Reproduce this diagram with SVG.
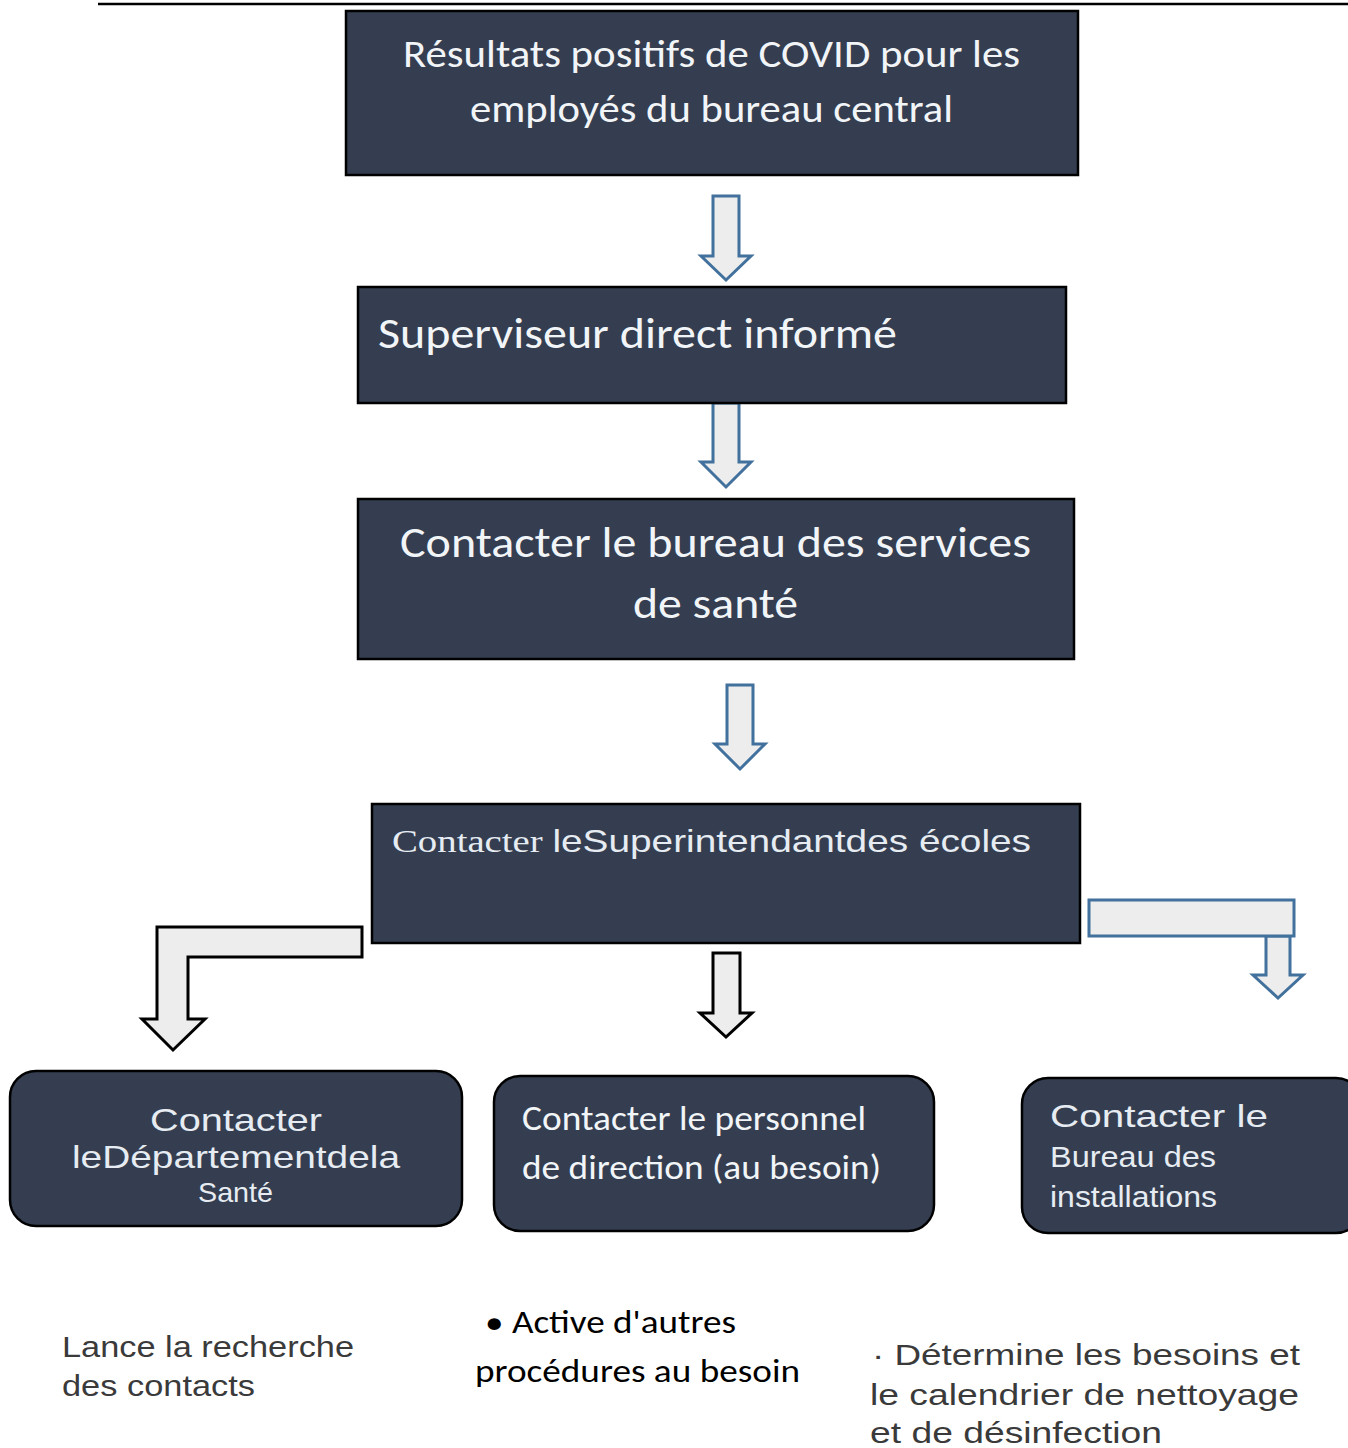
<svg xmlns="http://www.w3.org/2000/svg" width="1348" height="1448" viewBox="0 0 1348 1448">
<style>
.box{fill:#343e50;stroke:#000;stroke-width:2.5}
.cal{font-family:Carlito,"Open Sans","Noto Sans",sans-serif;fill:#f2f5f8}
.ari{font-family:"Liberation Sans",Arial,sans-serif;fill:#e6ecf2}
.ser{font-family:"Liberation Serif","Times New Roman",serif}
.blue{fill:#ededed;stroke:#41719c;stroke-width:3;stroke-linejoin:miter}
.blk{fill:#ededed;stroke:#000;stroke-width:3;stroke-linejoin:miter}
.note{font-family:"Liberation Sans",Arial,sans-serif;fill:#3a3a3a;font-size:30px}
.note2{font-family:Carlito,"Open Sans","Noto Sans",sans-serif;fill:#000;font-size:32px}
</style>
<rect width="1348" height="1448" fill="#fff"/>
<line x1="98" y1="4" x2="1348" y2="4" stroke="#000" stroke-width="2.5"/>

<g id="connectors">
<path class="blue" d="M713,196 L739,196 L739,256 L751,256 L726,280 L701,256 L713,256 Z"/>
<path class="blue" d="M713,403 L739,403 L739,462 L751,462 L726,487 L701,462 L713,462 Z"/>
<path class="blue" d="M727,685 L753,685 L753,744 L765,744 L740,769 L715,744 L727,744 Z"/>
<path class="blk" d="M362,927 L157,927 L157,1019 L142,1019 L173,1050 L205,1019 L188,1019 L188,957 L362,957 Z"/>
<path class="blk" d="M713,953 L740,953 L740,1013 L752,1013 L726,1037 L700,1013 L713,1013 Z"/>
<path class="blue" d="M1266,936 L1290,936 L1290,975 L1303,975 L1278,998 L1253,975 L1266,975 Z"/>
<rect class="blue" x="1089" y="900" width="205" height="36"/>
</g>

<g id="n1">
<rect class="box" x="346" y="11" width="732" height="164"/>
<text class="cal" x="403" y="67" font-size="38" textLength="617" lengthAdjust="spacingAndGlyphs">Résultats positifs de COVID pour les</text>
<text class="cal" x="470" y="122" font-size="38" textLength="483" lengthAdjust="spacingAndGlyphs">employés du bureau central</text>
</g>

<g id="n2">
<rect class="box" x="358" y="287" width="708" height="116"/>
<text class="cal" x="378" y="348" font-size="44" textLength="519" lengthAdjust="spacingAndGlyphs">Superviseur direct informé</text>
</g>

<g id="n3">
<rect class="box" x="358" y="499" width="716" height="160"/>
<text class="cal" x="400" y="557" font-size="44" textLength="631" lengthAdjust="spacingAndGlyphs">Contacter le bureau des services</text>
<text class="cal" x="633" y="618" font-size="44" textLength="165" lengthAdjust="spacingAndGlyphs">de santé</text>
</g>

<g id="n4">
<rect class="box" x="372" y="804" width="708" height="139"/>
<text class="ari" x="392" y="852" font-size="32" textLength="639" lengthAdjust="spacingAndGlyphs"><tspan class="ser">Contacter </tspan>leSuperintendantdes écoles</text>
</g>

<g id="n5">
<rect class="box" x="10" y="1071" width="452" height="155" rx="26"/>
<text class="ari" x="150" y="1131" font-size="32" textLength="172" lengthAdjust="spacingAndGlyphs">Contacter</text>
<text class="ari" x="72" y="1168" font-size="32" textLength="328" lengthAdjust="spacingAndGlyphs">leDépartementdela</text>
<text class="ari" x="198" y="1202" font-size="28" textLength="75" lengthAdjust="spacingAndGlyphs">Santé</text>
</g>

<g id="n6">
<rect class="box" x="494" y="1076" width="440" height="155" rx="26"/>
<text class="cal" x="522" y="1130" font-size="34" textLength="344" lengthAdjust="spacingAndGlyphs">Contacter le personnel</text>
<text class="cal" x="522" y="1179" font-size="34" textLength="359" lengthAdjust="spacingAndGlyphs">de direction (au besoin)</text>
</g>

<g id="n7">
<rect class="box" x="1022" y="1078" width="340" height="155" rx="26"/>
<text class="ari" x="1050" y="1127" font-size="32" textLength="218" lengthAdjust="spacingAndGlyphs">Contacter le</text>
<text class="ari" x="1050" y="1167" font-size="29" textLength="166" lengthAdjust="spacingAndGlyphs">Bureau des</text>
<text class="ari" x="1050" y="1207" font-size="29" textLength="167" lengthAdjust="spacingAndGlyphs">installations</text>
</g>

<g id="notes">
<text class="note" x="62" y="1357" textLength="292" lengthAdjust="spacingAndGlyphs">Lance la recherche</text>
<text class="note" x="62" y="1396" textLength="193" lengthAdjust="spacingAndGlyphs">des contacts</text>
<text class="note2" x="485" y="1333" textLength="251" lengthAdjust="spacingAndGlyphs">• Active d'autres</text>
<text class="note2" x="475" y="1382" textLength="325" lengthAdjust="spacingAndGlyphs">procédures au besoin</text>
<text class="note" x="872" y="1365" textLength="428" lengthAdjust="spacingAndGlyphs">· Détermine les besoins et</text>
<text class="note" x="870" y="1405" textLength="429" lengthAdjust="spacingAndGlyphs">le calendrier de nettoyage</text>
<text class="note" x="870" y="1443" textLength="292" lengthAdjust="spacingAndGlyphs">et de désinfection</text>
</g>
</svg>
